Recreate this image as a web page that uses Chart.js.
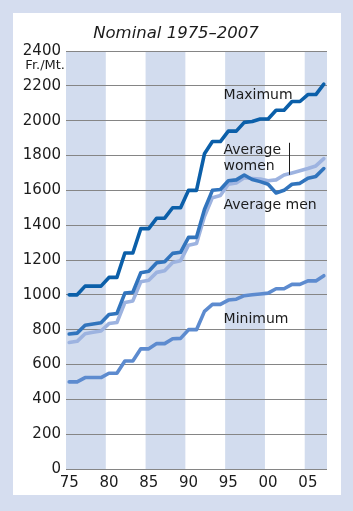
<!DOCTYPE html>
<html>
<head>
<meta charset="utf-8">
<script src="https://cdn.jsdelivr.net/npm/chart.js@4"></script>
<style>
  html, body { margin: 0; padding: 0; }
  body { width: 353px; height: 511px; background: #d5ddef; position: relative; }
  #panel { position: absolute; left: 13px; top: 13px; width: 328px; height: 482px; background: #fff; }
  canvas { display: block; }
</style>
</head>
<body>
<div id="panel"><canvas id="wages" width="328" height="482"></canvas></div>
<script>
// data
const years = [1975, 1976, 1977, 1978, 1979, 1980, 1981, 1982, 1983, 1984, 1985,
  1986, 1987, 1988, 1989, 1990, 1991, 1992, 1993, 1994, 1995, 1996, 1997, 1998,
  1999, 2000, 2001, 2002, 2003, 2004, 2005, 2006, 2007]

const maximum = [1000, 1000, 1050, 1050, 1050, 1100, 1100, 1240, 1240, 1380, 1380,
  1440, 1440, 1500, 1500, 1600, 1600, 1810, 1880, 1880, 1940, 1940, 1990, 1995,
  2010, 2010, 2060, 2060, 2110, 2110, 2150, 2150, 2210]

const averageMen = [775, 780, 825, 832, 840, 887, 893, 1010, 1015, 1127, 1135,
  1184, 1190, 1238, 1244, 1330, 1330, 1490, 1600, 1605, 1655, 1660, 1688, 1662,
  1650, 1635, 1585, 1600, 1635, 1640, 1670, 1680, 1725]

const averageWomen = [726, 733, 777, 785, 792, 835, 841, 956, 965, 1075, 1084,
  1129, 1138, 1186, 1196, 1285, 1295, 1450, 1558, 1570, 1635, 1642, 1672, 1668,
  1665, 1655, 1660, 1688, 1700, 1712, 1725, 1740, 1782]

const minimum = [500, 500, 525, 525, 525, 550, 550, 620, 620, 690, 690,
  720, 720, 748, 750, 800, 800, 905, 945, 945, 970, 975, 995, 1000,
  1005, 1010, 1035, 1035, 1060, 1060, 1080, 1080, 1110]

const xTickYears = [1975, 1980, 1985, 1990, 1995, 2000, 2005]
const xTickLabels = ['75', '80', '85', '90', '95', '00', '05']
const yTicks = [0, 200, 400, 600, 800, 1000, 1200, 1400, 1600, 1800, 2000, 2200, 2400]

// shaded periods (in years)
const bandStarts = [1974.6, 1984.6, 1994.6, 2004.6]
const bandEnds = [1979.6, 1989.6, 1999.6, 2007.4]

const font = '"DejaVu Sans", sans-serif'
const textColor = '#1c1c1c'

const toPoints = values => values.map((v, i) => ({ x: years[i], y: v }))

const lineSet = (label, values, color) => ({
  label,
  data: toPoints(values),
  borderColor: color,
  borderWidth: 3.6,
  borderJoinStyle: 'round',
  borderCapStyle: 'round',
  pointRadius: 0,
  tension: 0,
  fill: false
})

// plugins
const bands = {
  id: 'bands',
  beforeDraw(chart) {
    const { ctx, chartArea, scales: { x } } = chart
    ctx.save()
    ctx.fillStyle = '#d2dcee'
    bandStarts.forEach((start, i) => {
      const x0 = x.getPixelForValue(start)
      const x1 = x.getPixelForValue(bandEnds[i])
      ctx.fillRect(x0, chartArea.top, x1 - x0, chartArea.bottom - chartArea.top)
    })
    ctx.restore()
  }
}

const labels = {
  id: 'labels',
  afterDraw(chart) {
    const { ctx, chartArea, scales: { x, y } } = chart
    ctx.save()
    ctx.fillStyle = textColor

    // title
    ctx.font = 'italic 16.5px ' + font
    ctx.textAlign = 'center'
    ctx.textBaseline = 'alphabetic'
    ctx.fillText('Nominal 1975\u20132007', 163, 25)

    // unit under the top tick
    ctx.font = '13px ' + font
    ctx.textAlign = 'right'
    ctx.textBaseline = 'middle'
    ctx.fillText('Fr./Mt.', chartArea.left - 1, y.getPixelForValue(2315))

    // series names
    ctx.font = '14px ' + font
    ctx.textAlign = 'left'
    ctx.textBaseline = 'alphabetic'
    const left = x.getPixelForValue(1994.4)
    ctx.fillText('Maximum', left, y.getPixelForValue(2125))
    ctx.fillText('Average', left, y.getPixelForValue(1811))
    ctx.fillText('women', left, y.getPixelForValue(1718))
    ctx.fillText('Average men', left, y.getPixelForValue(1492))
    ctx.fillText('Minimum', left, y.getPixelForValue(838))

    // pointer for women
    const px = Math.round(x.getPixelForValue(2002.6)) + 0.5
    ctx.strokeStyle = textColor
    ctx.lineWidth = 1
    ctx.beginPath()
    ctx.moveTo(px, y.getPixelForValue(1873))
    ctx.lineTo(px, y.getPixelForValue(1689))
    ctx.stroke()
    ctx.restore()
  }
}

// chart
const chart = new Chart(document.getElementById('wages'), {
  type: 'line',
  data: {
    datasets: [
      lineSet('Maximum', maximum, '#0b5fa9'),
      lineSet('Average men', averageMen, '#3174bd'),
      lineSet('Average women', averageWomen, '#9db3e0'),
      lineSet('Minimum', minimum, '#5d8bcf')
    ]
  },
  options: {
    responsive: false,
    devicePixelRatio: 1,
    animation: false,
    layout: { padding: { top: 38, right: 14, bottom: 0, left: 0 } },
    plugins: {
      legend: { display: false },
      title: { display: false },
      tooltip: { enabled: false }
    },
    scales: {
      x: {
        type: 'linear',
        min: 1974.6,
        max: 2007.4,
        afterBuildTicks: scale => {
          scale.ticks = xTickYears.map(v => ({ value: v }))
        },
        afterFit: scale => { scale.height = 26 },
        grid: { display: false, drawTicks: false },
        border: { display: false },
        ticks: {
          padding: 5,
          maxRotation: 0,
          color: textColor,
          font: { family: font, size: 15 },
          callback: value => xTickLabels[xTickYears.indexOf(value)]
        }
      },
      y: {
        min: 0,
        max: 2400,
        afterBuildTicks: scale => {
          scale.ticks = yTicks.map(v => ({ value: v }))
        },
        afterFit: scale => { scale.width = 53 },
        grid: { color: '#858585', lineWidth: 1, drawTicks: false },
        border: { display: false },
        ticks: {
          padding: 5,
          color: textColor,
          font: { family: font, size: 15 },
          callback: value => String(value)
        }
      }
    }
  },
  plugins: [bands, labels]
})
</script>
</body>
</html>
